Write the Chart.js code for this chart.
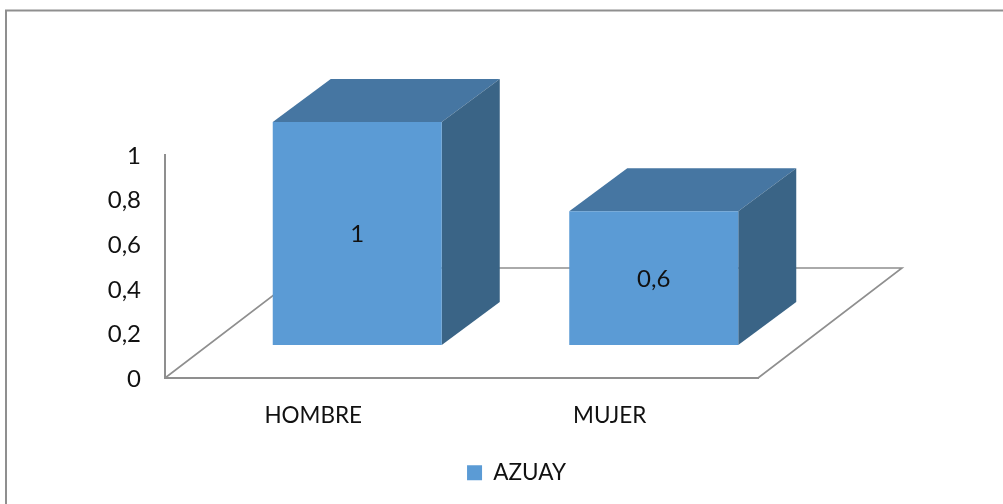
<!DOCTYPE html>
<html>
<head>
<meta charset="utf-8">
<style>html,body{margin:0;padding:0;background:#fff}canvas{display:block}</style>
<script src="https://cdn.jsdelivr.net/npm/chart.js@4"></script>
</head>
<body>
<canvas id="c" width="1003" height="504"></canvas>
<script>
const categories = ['HOMBRE', 'MUJER'];
const seriesName = 'AZUAY';
const seriesValues = [1, 0.6];
const yTicks = { min: 0, max: 1, step: 0.2 };

const FONT = 'Lato, Carlito, sans-serif';
const FONT_SIZE = 22.5;
const NUM_SIZE = 24;
const C_FRONT = '#5b9bd5', C_TOP = '#4676a2', C_SIDE = '#3a6486', C_AXIS = '#8f8f8f', C_TEXT = '#111';
const FLOOR = { dx: 144, dy: -110 };      // depth of the floor
const SHIFT = { dx: 44, dy: -33 };        // bars sit inside the floor
const DEPTH = { dx: 58, dy: -43 };        // depth of a bar
const comma = v => String(+(+v).toFixed(1)).replace('.', ',');

function poly(ctx, pts, fill) {
  ctx.beginPath();
  pts.forEach((p, i) => i ? ctx.lineTo(p[0], p[1]) : ctx.moveTo(p[0], p[1]));
  ctx.closePath();
  ctx.fillStyle = fill;
  ctx.fill();
}

const bars3d = {
  id: 'bars3d',
  beforeDraw(chart) {
    const ctx = chart.ctx;
    ctx.save();
    ctx.strokeStyle = C_AXIS;
    ctx.lineWidth = 2;
    ctx.beginPath();
    ctx.moveTo(6, 504); ctx.lineTo(6, 10.5); ctx.lineTo(1003, 10.5);
    ctx.stroke();
    ctx.restore();
  },
  beforeDatasetsDraw(chart) {
    const ctx = chart.ctx, a = chart.chartArea;
    ctx.save();
    ctx.strokeStyle = C_AXIS;
    ctx.lineWidth = 1.6;
    ctx.beginPath();
    ctx.moveTo(a.left, a.bottom);
    ctx.lineTo(a.left + FLOOR.dx, a.bottom + FLOOR.dy);
    ctx.lineTo(a.right + FLOOR.dx, a.bottom + FLOOR.dy);
    ctx.lineTo(a.right, a.bottom);
    ctx.stroke();
    ctx.restore();

    ctx.save();
    ctx.translate(SHIFT.dx, SHIFT.dy);
    chart.getDatasetMeta(0).data.forEach(b => {
      const l = b.x - b.width / 2, r = b.x + b.width / 2, t = b.y, bt = b.base;
      poly(ctx, [[l, t], [l + DEPTH.dx, t + DEPTH.dy], [r + DEPTH.dx, t + DEPTH.dy], [r, t]], C_TOP);
      poly(ctx, [[r, t], [r + DEPTH.dx, t + DEPTH.dy], [r + DEPTH.dx, bt + DEPTH.dy], [r, bt]], C_SIDE);
    });
  },
  afterDatasetsDraw(chart) {
    const ctx = chart.ctx;
    ctx.restore();
    ctx.save();
    ctx.font = NUM_SIZE + 'px ' + FONT;
    ctx.fillStyle = C_TEXT;
    ctx.textAlign = 'center';
    ctx.textBaseline = 'middle';
    chart.getDatasetMeta(0).data.forEach((b, i) => {
      ctx.fillText(comma(seriesValues[i]), b.x + SHIFT.dx, (b.y + b.base) / 2 + SHIFT.dy + 1);
    });
    ctx.restore();
  }
};

new Chart(document.getElementById('c'), {
  type: 'bar',
  data: {
    labels: categories,
    datasets: [{
      label: seriesName,
      data: seriesValues,
      backgroundColor: C_FRONT,
      barPercentage: 0.57,
      categoryPercentage: 1,
      clip: false
    }]
  },
  plugins: [bars3d],
  options: {
    responsive: false,
    animation: false,
    events: [],
    layout: { padding: { left: 30, right: 0, top: 155, bottom: 10 } },
    font: { family: FONT, size: FONT_SIZE },
    scales: {
      x: {
        grid: { display: false, drawTicks: false },
        border: { display: true, color: C_AXIS, width: 2 },
        ticks: { color: C_TEXT, padding: 24, font: { family: FONT, size: FONT_SIZE }, maxRotation: 0 },
        afterFit(s) { s.height = 73.5; }
      },
      y: {
        min: yTicks.min, max: yTicks.max,
        grid: { display: false, drawTicks: false },
        border: { display: true, color: C_AXIS, width: 2 },
        ticks: { stepSize: yTicks.step, color: C_TEXT, padding: 24, labelOffset: 1, font: { family: FONT, size: NUM_SIZE }, callback: comma },
        afterFit(s) { s.width = 135; }
      },
      spacer: {
        type: 'linear', position: 'right', min: 0, max: 1,
        grid: { display: false, drawTicks: false },
        border: { display: false },
        ticks: { display: false },
        afterFit(s) { s.width = 245; }
      }
    },
    plugins: {
      tooltip: { enabled: false },
      legend: {
        position: 'bottom',
        labels: { boxWidth: 15, boxHeight: 15, padding: 10, color: C_TEXT, font: { family: FONT, size: FONT_SIZE } }
      }
    }
  }
});
</script>
</body>
</html>
